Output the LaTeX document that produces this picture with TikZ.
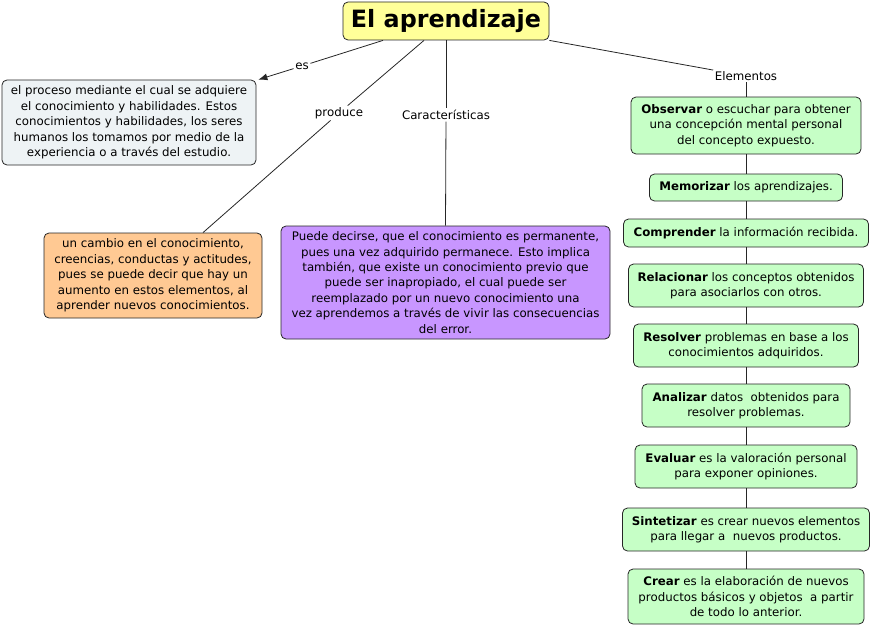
\documentclass[tikz,border=0pt]{standalone}
\usepackage{fontspec}
\setmainfont{DejaVu Sans}
\usetikzlibrary{positioning,arrows.meta}
\definecolor{TitleYellow}{HTML}{FFFF99}
\definecolor{DefGray}{HTML}{EEF3F5}
\definecolor{ProdOrange}{HTML}{FFC993}
\definecolor{CharPurple}{HTML}{C896FF}
\definecolor{ElemGreen}{HTML}{C6FFC6}
\tikzset{
  boxbase/.style={draw=black!85,rounded corners=5pt,line width=0.8pt,
    align=center,inner sep=2pt,font=\fontsize{11.8}{15.4}\selectfont},
  topicnode/.style={boxbase,fill=TitleYellow,
    font=\fontsize{23.8}{26}\selectfont\bfseries},
  defnode/.style={boxbase,fill=DefGray},
  prodnode/.style={boxbase,fill=ProdOrange},
  charnode/.style={boxbase,fill=CharPurple},
  elemnode/.style={boxbase,fill=ElemGreen,minimum height=43pt},
  linklabel/.style={font=\fontsize{11.8}{14}\selectfont,inner sep=1.5pt},
  edgeL/.style={line width=0.8pt,draw=black!85},
}
\begin{document}
\begin{tikzpicture}[x=1pt,y=-1pt]
  \useasboundingbox (0,0) rectangle (872,626);
  % Main topic
  \node[topicnode,minimum width=206pt,minimum height=38pt] (tema) at (446,21) {El aprendizaje};
  % Link labels
  \node[linklabel] (es) at (302,66) {es};
  \node[linklabel] (produce) at (339,113) {produce};
  \node[linklabel] (caract) at (446,115) {Características};
  \node[linklabel] (elementos) at (746,76) {Elementos};
  % Concept boxes
  \node[defnode,minimum width=254pt,minimum height=85pt] (proceso) at (129,122.5)
    {el proceso mediante el cual se adquiere\\el conocimiento y habilidades. Estos\\conocimientos y habilidades, los seres\\humanos los tomamos por medio de la\\experiencia o a través del estudio.};
  \node[prodnode,minimum width=218pt,minimum height=85pt] (cambio) at (153,275.5)
    {un cambio en el conocimiento,\\creencias, conductas y actitudes,\\pues se puede decir que hay un\\aumento en estos elementos, al\\aprender nuevos conocimientos.};
  \node[charnode,minimum width=329pt,minimum height=113pt] (permanente) at (445.5,282.5)
    {Puede decirse, que el conocimiento es permanente,\\pues una vez adquirido permanece. Esto implica\\también, que existe un conocimiento previo que\\puede ser inapropiado, el cual puede ser\\reemplazado por un nuevo conocimiento una\\vez aprendemos a través de vivir las consecuencias\\del error.};
  % Elementos column
  \node[elemnode,minimum width=230pt,minimum height=57pt] (observar) at (746,125.5)
    {\textbf{Observar} o escuchar para obtener\\una concepción mental personal\\del concepto expuesto.};
  \node[elemnode,minimum width=193pt,minimum height=27pt] (memorizar) at (746,187.5)
    {\textbf{Memorizar} los aprendizajes.};
  \node[elemnode,minimum width=245pt,minimum height=28pt] (comprender) at (746,233)
    {\textbf{Comprender} la información recibida.};
  \node[elemnode,minimum width=235pt] (relacionar) at (746,285.5)
    {\textbf{Relacionar} los conceptos obtenidos\\para asociarlos con otros.};
  \node[elemnode,minimum width=225pt] (resolver) at (746,345.5)
    {\textbf{Resolver} problemas en base a los\\conocimientos adquiridos.};
  \node[elemnode,minimum width=208pt] (analizar) at (746,405.5)
    {\textbf{Analizar} datos~ obtenidos para\\resolver problemas.};
  \node[elemnode,minimum width=222pt] (evaluar) at (746,466.5)
    {\textbf{Evaluar} es la valoración personal\\para exponer opiniones.};
  \node[elemnode,minimum width=247pt] (sintetizar) at (746,529.5)
    {\textbf{Sintetizar} es crear nuevos elementos\\para llegar a~ nuevos productos.};
  \node[elemnode,minimum width=236pt,minimum height=55pt] (crear) at (746,596.5)
    {\textbf{Crear} es la elaboración de nuevos\\productos básicos y objetos~ a partir\\de todo lo anterior.};
  % Connectors
  \draw[edgeL] ([xshift=-63pt]tema.south) -- (es);
  \draw[edgeL,-{Latex[length=9pt,width=7pt]}] (es) -- ([xshift=2pt]proceso.north east);
  \draw[edgeL] ([xshift=-22pt]tema.south) -- (produce);
  \draw[edgeL] (produce) -- ([xshift=50pt]cambio.north);
  \draw[edgeL] (tema.south) -- (caract);
  \draw[edgeL] (caract) -- (permanente.north);
  \draw[edgeL] (tema.south east) -- (elementos);
  \draw[edgeL] (elementos) -- (observar);
  \foreach \a/\b in {observar/memorizar,memorizar/comprender,comprender/relacionar,
      relacionar/resolver,resolver/analizar,analizar/evaluar,evaluar/sintetizar,sintetizar/crear}
    \draw[edgeL] (\a.south) -- (\b.north);
\end{tikzpicture}
\end{document}
